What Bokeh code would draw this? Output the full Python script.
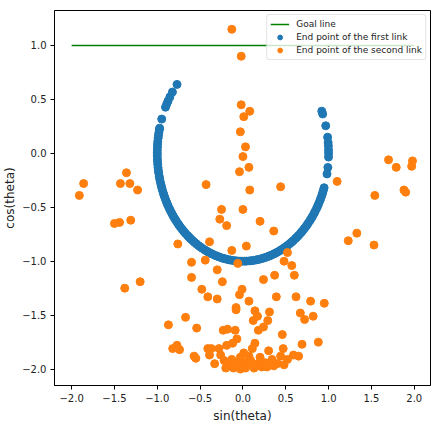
import math
from bokeh.plotting import figure
from bokeh.models import Range1d, FixedTicker
from bokeh.embed import file_html
from bokeh.resources import INLINE

# Goal line
goal_x = [-2.0, 2.0]
goal_y = [1.0, 1.0]

# End point of the first link: joint angle theta (degrees), x = sin(theta), y = cos(theta)
theta1_deg = [
    67.0, 68.6, 75.2, 81.4, 84.3, 86.0, 88.2, 90.0, 92.0, 97.5, 101.0,
    108.6, 110.2, 111.5, 113.0, 114.8, 116.1, 117.9, 119.2, 120.6, 122.4, 123.7,
    125.5, 126.8, 128.3, 130.1, 131.4, 133.0, 134.6, 136.2, 137.5, 139.3, 140.8,
    142.1, 143.9, 145.2, 146.7, 148.5, 149.8, 151.4, 153.0, 154.3, 156.1, 157.6,
    158.9, 160.7, 162.0, 163.6, 165.3, 166.5, 168.2, 169.8, 171.1, 172.9, 174.4,
    175.7, 177.5, 178.8, 180.6, 182.0, 183.7, 185.1, 186.6, 188.4, 189.7, 191.5,
    192.9, 194.2, 196.0, 197.4, 198.9, 200.7, 202.0, 203.8, 205.1, 206.6, 208.4,
    209.9, 211.3, 213.0, 214.5, 216.0, 217.6, 219.1, 220.5, 222.3, 223.8, 225.2,
    226.9, 228.4, 229.8, 231.6, 233.0, 234.5, 236.2, 237.7, 239.1, 240.9, 242.3,
    243.8, 245.5, 247.0, 248.4, 250.2, 251.6, 253.1, 254.8, 256.3, 257.7, 259.5,
    260.9, 262.4, 264.1, 265.6, 267.0, 268.8, 270.2, 271.7, 273.4, 274.9, 276.3,
    278.1, 279.5, 281.0, 282.7, 283.5,
    288.5, 295.3, 297.3, 299.0, 301.5, 304.6, 309.7,
]
first_x = [math.sin(math.radians(t)) for t in theta1_deg]
first_y = [math.cos(math.radians(t)) for t in theta1_deg]

# End point of the second link
second_x = [
    -0.13, -0.02, -0.02, 0.08, 0.01, -0.03, 0.03, 0.00, 0.07, -0.04, 0.08, 0.44,
    1.10, 1.54, 1.70, 1.79, 1.98, 1.97, 1.90, 1.88, -0.25, 0.00, 0.20,
    -1.36, -1.43, -1.32, -1.23, -1.86, -1.91, -0.43, -0.27, -0.19, 0.36,
    -1.50, -1.44, -1.31, -0.76, -0.60, -0.60, -1.20, -1.38, -0.39, -0.44, -0.30,
    -0.48, -0.41, -0.30, -0.67, -0.87, -0.54, -0.82, -0.77, -0.74, -0.57, -0.55,
    -0.41, -0.37, -0.39, -0.33, -0.28, -0.26, 1.23, 1.33, 1.53, -0.13, 0.04,
    0.52, -0.06, 0.48, 0.57, 0.60, 0.37, 0.24, -0.24, -0.01, -0.04, 0.07, 0.39,
    0.62, 0.79, 0.95, -0.08, -0.08, 0.14, 0.31, 0.67, 0.72, 0.82, 0.12, 0.17,
    0.29, -0.23, -0.18, -0.09, 0.18, 0.24, -0.07, -0.19, -0.12, 0.14, 0.46,
    0.69, 0.88, -0.13, -0.17, -0.07, -0.03, 0.01, 0.03, 0.09, 0.11, 0.17, 0.20,
    0.26, 0.30, 0.34, 0.40, 0.44, 0.47, 0.52, 0.59, 0.65, 0.01, -0.20, -0.11,
    -0.03, 0.13, 0.28, 0.05, -0.22, 0.22, 0.36, 0.07, 0.48,
]
second_y = [
    1.15, 0.90, 0.45, 0.39, 0.34, 0.20, 0.06, -0.03, -0.13, -0.17, -0.34, -0.31,
    -0.26, -0.39, -0.06, -0.13, -0.07, -0.12, -0.36, -0.34, -0.52, -0.52, -0.63,
    -0.18, -0.28, -0.28, -0.34, -0.28, -0.39, -0.29, -0.61, -0.67, -0.72,
    -0.65, -0.64, -0.62, -0.84, -1.01, -1.15, -1.19, -1.25, -0.82, -0.99, -1.08,
    -1.26, -1.33, -1.35, -1.52, -1.59, -1.62, -1.81, -1.78, -1.82, -1.88, -1.90,
    -1.81, -1.81, -1.87, -1.95, -1.81, -1.87, -0.81, -0.74, -0.85, -0.90, -0.86,
    -0.92, -1.02, -1.00, -1.04, -1.13, -1.13, -1.17, -1.19, -1.26, -1.31, -1.37, -1.33,
    -1.33, -1.37, -1.39, -1.43, -1.45, -1.46, -1.47, -1.48, -1.54, -1.51, -1.55, -1.51,
    -1.55, -1.64, -1.63, -1.64, -1.64, -1.61, -1.72, -1.78, -1.76, -1.76, -1.68,
    -1.77, -1.75, -1.91, -1.97, -1.94, -1.89, -1.85, -1.99, -1.92, -1.81, -1.95, -1.89,
    -1.94, -1.83, -1.91, -1.95, -1.88, -1.81, -1.91, -1.87, -1.88, -1.94, -1.99, -1.99,
    -2.00, -1.99, -1.98, -1.96, -1.92, -1.98, -1.97, -1.88, -1.96,
]

x_ticks = [-2.0, -1.5, -1.0, -0.5, 0.0, 0.5, 1.0, 1.5, 2.0]
y_ticks = [-2.0, -1.5, -1.0, -0.5, 0.0, 0.5, 1.0]


def fmt(v):
    s = f"{v:.1f}"
    return s.replace("-", "\u2212")


p = figure(width=437, height=426, output_backend="svg", toolbar_location=None,
           x_range=Range1d(-2.2, 2.19), y_range=Range1d(-2.152, 1.324),
           min_border_left=54, min_border_right=7, min_border_top=10, min_border_bottom=41)

p.line(goal_x, goal_y, line_color="green", line_width=1.6, legend_label="Goal line")
p.scatter(first_x, first_y, size=8, fill_color="#1f77b4", line_color="#1f77b4",
          legend_label="End point of the first link")
p.scatter(second_x, second_y, size=8, fill_color="#ff7f0e", line_color="#ff7f0e",
          legend_label="End point of the second link")

p.grid.visible = False
p.outline_line_color = "black"
p.outline_line_width = 1
p.background_fill_color = "white"
p.border_fill_color = "white"

p.xaxis.ticker = FixedTicker(ticks=x_ticks)
p.yaxis.ticker = FixedTicker(ticks=y_ticks)
p.xaxis.major_label_overrides = {t: fmt(t) for t in x_ticks}
p.yaxis.major_label_overrides = {t: fmt(t) for t in y_ticks}
p.xaxis.axis_label = "sin(theta)"
p.yaxis.axis_label = "cos(theta)"

for ax in (p.xaxis[0], p.yaxis[0]):
    ax.axis_line_color = "black"
    ax.major_tick_line_color = "black"
    ax.major_tick_out = 4
    ax.major_tick_in = 0
    ax.minor_tick_line_color = None
    ax.major_label_text_font = "DejaVu Sans"
    ax.major_label_text_font_size = "10px"
    ax.major_label_text_color = "#222222"
    ax.axis_label_text_font = "DejaVu Sans"
    ax.axis_label_text_font_size = "12px"
    ax.axis_label_text_font_style = "normal"
    ax.axis_label_text_color = "#222222"

p.yaxis.major_label_standoff = 4
p.yaxis.axis_label_standoff = 2
p.xaxis.major_label_standoff = 4
p.xaxis.axis_label_standoff = 4

lg = p.legend[0]
lg.location = "top_right"
lg.margin = 4
lg.padding = 3
lg.spacing = 1
lg.label_height = 12
lg.glyph_height = 12
lg.glyph_width = 19
lg.label_standoff = 7
lg.label_text_font = "DejaVu Sans"
lg.label_text_font_size = "9px"
lg.label_text_color = "#222222"
lg.border_line_color = "#cccccc"
lg.border_line_width = 1
lg.border_radius = 3
lg.background_fill_alpha = 0.8

open("out.html", "w").write(file_html(p, INLINE))
